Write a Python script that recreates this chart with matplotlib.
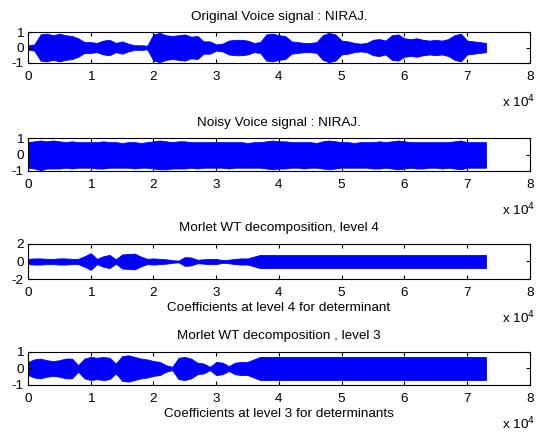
import numpy as np
import matplotlib
matplotlib.use("Agg")
import matplotlib.pyplot as plt

plt.rcParams['font.family'] = ['Liberation Sans', 'DejaVu Sans']

# sample positions (in units of 1e4 samples), envelope read every 0.1e4
x_env = [i / 10 for i in range(74)]

orig_env = [0.15, 0.2, 0.85, 0.9, 0.8, 0.9, 0.8, 0.75, 0.6, 0.35,
            0.35, 0.3, 0.45, 0.5, 0.3, 0.4, 0.25, 0.15, 0.15, 0.12,
            0.85, 0.95, 0.8, 0.75, 0.8, 0.85, 0.7, 0.75, 0.4, 0.4,
            0.2, 0.25, 0.45, 0.5, 0.5, 0.45, 0.3, 0.35, 0.85, 0.9,
            0.8, 0.75, 0.4, 0.35, 0.3, 0.3, 0.35, 0.8, 0.95, 0.85,
            0.45, 0.4, 0.3, 0.25, 0.3, 0.5, 0.55, 0.45, 0.8, 0.85,
            0.6, 0.55, 0.6, 0.5, 0.45, 0.5, 0.45, 0.55, 0.8, 0.9,
            0.45, 0.4, 0.35, 0.3]

noisy_up = [0.75, 0.8, 0.85, 0.8, 0.85, 0.8, 0.75, 0.8, 0.75, 0.75,
            0.75, 0.75, 0.8, 0.75, 0.75, 0.7, 0.75, 0.75, 0.7, 0.75,
            0.8, 0.85, 0.8, 0.75, 0.8, 0.8, 0.75, 0.75, 0.75, 0.75,
            0.75, 0.75, 0.75, 0.75, 0.75, 0.7, 0.75, 0.75, 0.8, 0.85,
            0.8, 0.8, 0.75, 0.75, 0.75, 0.75, 0.7, 0.8, 0.85, 0.8,
            0.75, 0.75, 0.7, 0.75, 0.75, 0.75, 0.8, 0.75, 0.8, 0.85,
            0.8, 0.75, 0.75, 0.75, 0.75, 0.75, 0.75, 0.75, 0.8, 0.85,
            0.75, 0.75, 0.75, 0.75]
noisy_lo = [0.8, 0.85, 0.95, 0.85, 0.85, 0.85, 0.8, 0.85, 0.8, 0.8,
            0.8, 0.85, 0.85, 0.8, 0.8, 0.8, 0.8, 0.85, 0.8, 0.8,
            0.85, 0.9, 0.9, 0.85, 0.85, 0.85, 0.8, 0.85, 0.8, 0.8,
            0.8, 0.8, 0.85, 0.8, 0.8, 0.8, 0.8, 0.8, 0.85, 0.9,
            0.85, 0.85, 0.8, 0.8, 0.85, 0.8, 0.8, 0.85, 0.9, 0.85,
            0.8, 0.8, 0.8, 0.8, 0.8, 0.85, 0.85, 0.8, 0.85, 0.9,
            0.85, 0.8, 0.85, 0.85, 0.8, 0.8, 0.85, 0.8, 0.85, 0.9,
            0.8, 0.8, 0.8, 0.8]

lvl4_env = [0.3, 0.35, 0.35, 0.3, 0.3, 0.35, 0.35, 0.3, 0.3, 0.6,
            0.95, 0.3, 0.6, 0.75, 0.25, 0.8, 0.85, 0.9, 0.55, 0.3,
            0.35, 0.3, 0.25, 0.15, 0.1, 0.5, 0.45, 0.2, 0.25, 0.3,
            0.3, 0.15, 0.2, 0.3, 0.35, 0.35, 0.55, 0.75, 0.75, 0.75,
            0.75, 0.75, 0.75, 0.75, 0.75, 0.75, 0.75, 0.75, 0.75, 0.75,
            0.75, 0.75, 0.75, 0.75, 0.75, 0.75, 0.75, 0.75, 0.75, 0.75,
            0.75, 0.75, 0.75, 0.75, 0.75, 0.75, 0.75, 0.75, 0.75, 0.75,
            0.75, 0.75, 0.75, 0.75]

lvl3_env = [0.4, 0.55, 0.6, 0.5, 0.45, 0.5, 0.6, 0.6, 0.2, 0.6,
            0.7, 0.65, 0.7, 0.65, 0.3, 0.75, 0.8, 0.7, 0.6, 0.55,
            0.45, 0.4, 0.2, 0.1, 0.65, 0.7, 0.6, 0.35, 0.3, 0.1,
            0.4, 0.35, 0.15, 0.35, 0.4, 0.4, 0.55, 0.7, 0.7, 0.7,
            0.7, 0.7, 0.7, 0.7, 0.7, 0.7, 0.7, 0.7, 0.7, 0.7,
            0.7, 0.7, 0.7, 0.7, 0.7, 0.7, 0.7, 0.7, 0.7, 0.7,
            0.7, 0.7, 0.7, 0.7, 0.7, 0.7, 0.7, 0.7, 0.7, 0.7,
            0.7, 0.7, 0.7, 0.7]

titles = ["Original Voice signal : NIRAJ.",
          "Noisy Voice signal : NIRAJ.",
          "Morlet WT decomposition, level 4",
          "Morlet WT decomposition , level 3"]
xlabels = ["", "", "Coefficients at level 4 for determinant",
           "Coefficients at level 3 for determinants"]
ylims = [(-1, 1), (-1, 1), (-2, 2), (-1, 1)]
yticks = [[-1, 0, 1], [-1, 0, 1], [-2, 0, 2], [-1, 0, 1]]
xticks = [0, 1, 2, 3, 4, 5, 6, 7, 8]

uppers = [orig_env, noisy_up, lvl4_env, lvl3_env]
lowers = [orig_env, noisy_lo, lvl4_env, lvl3_env]

FS = 9.7
fig = plt.figure(figsize=(5.39, 4.34), dpi=100)
positions = [(0.052, 0.855, 0.931, 0.071),
             (0.052, 0.606, 0.931, 0.076),
             (0.052, 0.357, 0.931, 0.081),
             (0.052, 0.113, 0.931, 0.076)]

xs = np.array(x_env) * 1e4
for k in range(4):
    ax = fig.add_axes(positions[k])
    up = np.array(uppers[k])
    lo = np.array(lowers[k])
    ax.fill_between(xs, -lo, up, color='#0000ff', linewidth=0.6, edgecolor='#0000ff')
    ax.set_xlim(0, 8e4)
    ax.set_ylim(*ylims[k])
    ax.set_yticks(yticks[k])
    ax.set_yticklabels([str(v) for v in yticks[k]])
    ax.set_xticks([t * 1e4 for t in xticks])
    ax.set_xticklabels([str(t) for t in xticks])
    ax.tick_params(direction='in', top=True, right=True, length=3,
                   labelsize=FS, width=0.8)
    ax.tick_params(axis='x', pad=6)
    ax.tick_params(axis='y', pad=3)
    for s in ax.spines.values():
        s.set_linewidth(0.8)
    ax.set_title(titles[k], fontsize=FS, pad=9)
    if xlabels[k]:
        ax.set_xlabel(xlabels[k], fontsize=FS, labelpad=2)
    ax.annotate(r"x 10$^{4}$", xy=(1.0, 0.0), xycoords='axes fraction',
                xytext=(4, -28), textcoords='offset points',
                ha='right', va='center', fontsize=FS)

fig.savefig("out.png", dpi=100, facecolor='white')
